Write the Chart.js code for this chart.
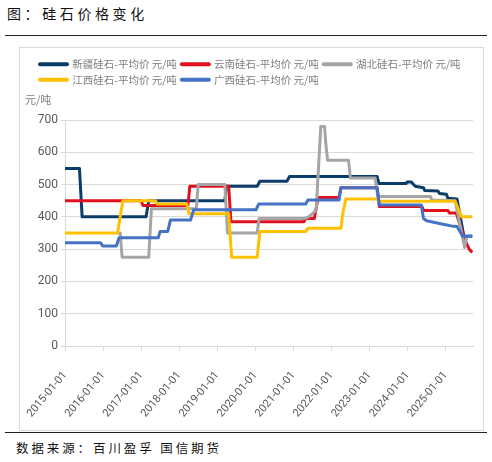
<!DOCTYPE html>
<html>
<head>
<meta charset="utf-8">
<script src="https://cdn.jsdelivr.net/npm/chart.js@4.4.1/dist/chart.umd.min.js"></script>
<style>
    html, body { margin: 0; padding: 0; background: #fff; }
    body { width: 492px; height: 462px; position: relative; overflow: hidden; font-family: "Noto Sans CJK SC", sans-serif; }
    #title { position: absolute; left: 7px; top: 4px; font-size: 14px; line-height: 18px; letter-spacing: 3.6px; color: #111; }
    .rule { position: absolute; left: 5px; width: 482px; height: 0; border-top: 1.5px solid #222; }
    #box { position: absolute; left: 19px; top: 47px; width: 465px; height: 384px; box-sizing: border-box; border: 1px solid #D9D9D9; }
    #box canvas { display: block; }
    #unit { position: absolute; left: 25px; top: 92px; font-size: 11px; line-height: 14px; color: #7F7F7F; }
    #source { position: absolute; left: 16px; top: 440px; font-size: 12.5px; line-height: 16px; letter-spacing: 2.9px; color: #111; }
</style>
</head>
<body>
<div id="title">图：硅石价格变化</div>
<div class="rule" style="top:35px"></div>
<div id="box"><canvas id="priceChart" width="463" height="382"></canvas></div>
<div id="unit">元/吨</div>
<div class="rule" style="top:432px"></div>
<div id="source">数据来源：百川盈孚 国信期货</div>

<script>
// [year, price] pairs
const xinjiang = [[2015.0, 550], [2015.38, 550], [2015.45, 400], [2017.13, 400], [2017.2, 450], [2019.2, 450], [2019.24, 495],
    [2020.05, 495], [2020.12, 510], [2020.83, 510], [2020.9, 525], [2023.2, 525], [2023.25, 503], [2023.96, 503], [2023.99, 508],
    [2024.1, 508], [2024.2, 495], [2024.42, 490], [2024.45, 482], [2024.8, 480], [2024.84, 472], [2025.02, 470], [2025.06, 458],
    [2025.3, 455], [2025.48, 340], [2025.7, 340]];
const yunnan = [[2015.0, 450], [2017.0, 450], [2017.05, 435], [2018.23, 435], [2018.28, 495], [2019.3, 495], [2019.36, 385],
    [2021.28, 385], [2021.32, 395], [2021.55, 395], [2021.65, 460], [2022.2, 460], [2022.25, 490], [2023.2, 490], [2023.26, 432],
    [2024.38, 432], [2024.42, 420], [2025.06, 420], [2025.1, 412], [2025.28, 412], [2025.5, 330], [2025.62, 300], [2025.7, 290]];
const hubei = [[2016.35, 350], [2016.45, 350], [2016.5, 275], [2017.2, 275], [2017.27, 425], [2018.45, 425], [2018.5, 500],
    [2019.2, 500], [2019.27, 350], [2020.05, 350], [2020.1, 395], [2021.3, 395], [2021.4, 400], [2021.5, 410], [2021.6, 420],
    [2021.72, 680], [2021.82, 680], [2021.85, 630], [2021.9, 575], [2022.45, 575], [2022.5, 520], [2023.15, 520], [2023.22, 463],
    [2024.6, 463], [2024.64, 452], [2025.25, 450], [2025.5, 305], [2025.56, 340], [2025.7, 340]];
const jiangxi = [[2015.0, 350], [2016.38, 350], [2016.52, 450], [2017.38, 450], [2017.42, 440], [2018.2, 440], [2018.26, 410],
    [2019.3, 410], [2019.38, 275], [2020.05, 275], [2020.12, 355], [2021.33, 355], [2021.38, 365], [2022.25, 365], [2022.3, 412],
    [2022.38, 455], [2023.2, 455], [2023.25, 448], [2025.25, 448], [2025.42, 400], [2025.7, 400]];
const guangxi = [[2015.0, 320], [2015.93, 320], [2015.99, 310], [2016.35, 310], [2016.42, 335], [2017.45, 335], [2017.5, 355],
    [2017.7, 355], [2017.77, 390], [2018.3, 390], [2018.38, 422], [2020.02, 422], [2020.09, 440], [2021.33, 440], [2021.38, 452],
    [2022.2, 452], [2022.25, 490], [2023.2, 490], [2023.26, 437], [2024.36, 437], [2024.42, 395], [2024.5, 388], [2024.9, 378],
    [2025.15, 372], [2025.3, 370], [2025.45, 340], [2025.7, 340]];

const seriesNames = ['新疆硅石-平均价 元/吨', '云南硅石-平均价 元/吨', '湖北硅石-平均价 元/吨', '江西硅石-平均价 元/吨', '广西硅石-平均价 元/吨'];
const seriesColors = ['#0B3D6B', '#E0101C', '#A5A5A5', '#FFC000', '#4472C4'];
const xTickYears = [2015, 2016, 2017, 2018, 2019, 2020, 2021, 2022, 2023, 2024, 2025];
const yTickValues = [0, 100, 200, 300, 400, 500, 600, 700];

const allSeries = [xinjiang, yunnan, hubei, jiangxi, guangxi];

// extra room between the legend and the plot (where the unit label sits)
const legendGap = {
    id: 'legendGap',
    beforeInit: function (chart) {
        const fit = chart.legend.fit;
        chart.legend.fit = function () {
            fit.bind(chart.legend)();
            this.height += 25;
        };
    }
};

const datasets = allSeries.map(function (s, i) {
    return {
        label: seriesNames[i],
        data: s.map(function (p) { return { x: p[0], y: p[1] }; }),
        borderColor: seriesColors[i],
        backgroundColor: seriesColors[i],
        borderWidth: 3,
        borderJoinStyle: 'round',
        pointRadius: 0,
        tension: 0,
        fill: false,
        order: allSeries.length - i   // later series drawn on top, as in the source
    };
});

new Chart(document.getElementById('priceChart'), {
    type: 'line',
    data: { datasets: datasets },
    options: {
        responsive: false,
        animation: false,
        layout: { padding: { left: 15, right: 10, top: 6, bottom: 5 } },
        plugins: {
            legend: {
                position: 'top',
                align: 'start',
                labels: {
                    usePointStyle: true,
                    pointStyle: 'line',
                    pointStyleWidth: 27,
                    padding: 5,
                    color: '#7F7F7F',
                    font: { family: '"Noto Sans CJK SC", sans-serif', size: 10.5 },
                    generateLabels: function (chart) {
                        const items = Chart.defaults.plugins.legend.labels.generateLabels(chart);
                        items.forEach(function (it) { it.lineWidth = 4; it.lineCap = 'round'; });
                        return items.sort(function (a, b) { return a.datasetIndex - b.datasetIndex; });
                    }
                }
            },
            tooltip: { enabled: false }
        },
        scales: {
            x: {
                type: 'linear',
                min: 2015,
                max: 2025.72,
                afterBuildTicks: function (s) { s.ticks = xTickYears.map(function (v) { return { value: v }; }); },
                afterFit: function (s) { s.height = 79; s.paddingLeft = 0; s.paddingRight = 0; },
                ticks: {
                    autoSkip: false,
                    minRotation: 50,
                    maxRotation: 50,
                    padding: 18,
                    color: '#595959',
                    font: { family: 'Roboto', size: 11 },
                    callback: function (v) { return v + '-01-01'; }
                },
                grid: { drawOnChartArea: false, drawTicks: true, tickLength: 5, color: '#D9D9D9' },
                border: { display: true, color: '#D9D9D9' }
            },
            y: {
                min: 0,
                max: 700,
                afterBuildTicks: function (s) { s.ticks = yTickValues.map(function (v) { return { value: v }; }); },
                afterFit: function (s) { s.width = 30; },
                ticks: {
                    padding: 3,
                    color: '#595959',
                    font: { family: 'Roboto', size: 12 }
                },
                grid: { color: '#D9D9D9', tickLength: 4 },
                border: { display: true, color: '#D9D9D9' }
            }
        }
    },
    plugins: [legendGap]
});
</script>
</body>
</html>
